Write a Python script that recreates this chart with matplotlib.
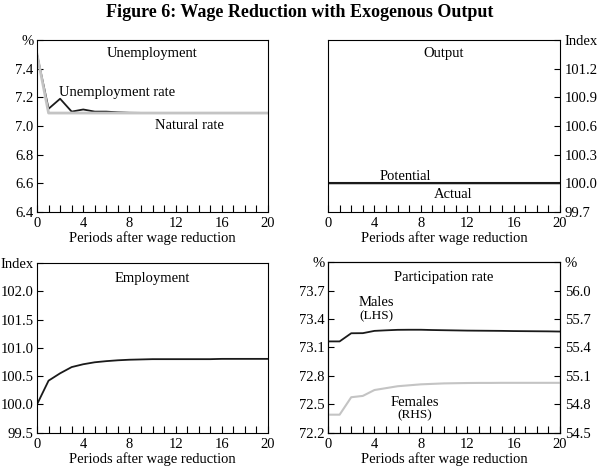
import matplotlib
matplotlib.use('Agg')
import matplotlib.pyplot as plt
from matplotlib.ticker import MultipleLocator

plt.rcParams.update({
    'font.family': 'Liberation Serif',
    'font.size': 10.5,
    'axes.linewidth': 0.8,
    'xtick.direction': 'in',
    'ytick.direction': 'in',
    'xtick.major.size': 5,
    'xtick.minor.size': 5,
    'ytick.major.size': 4,
    'xtick.major.width': 0.8,
    'xtick.minor.width': 0.8,
    'ytick.major.width': 0.8,
})

# data
periods = list(range(21))
unemp_rate = [7.50, 7.12, 7.19, 7.10, 7.115, 7.10, 7.10, 7.095, 7.092, 7.091,
              7.09, 7.09, 7.09, 7.09, 7.09, 7.09, 7.09, 7.09, 7.09, 7.09, 7.09]
natural_rate = [7.50] + [7.09] * 20
output_potential = [100.0] * 21
output_actual = [100.0] * 21
employment = [100.0, 100.42, 100.55, 100.66, 100.71, 100.745, 100.765, 100.78,
              100.79, 100.795, 100.80, 100.80, 100.80, 100.80, 100.80, 100.80,
              100.805, 100.805, 100.805, 100.805, 100.805]
males = [73.163, 73.163, 73.249, 73.25, 73.274, 73.28, 73.285, 73.286, 73.286,
         73.283, 73.281, 73.279, 73.277, 73.276, 73.275, 73.274, 73.272, 73.271,
         73.27, 73.269, 73.267]
females = [54.69, 54.69, 54.874, 54.888, 54.95, 54.97, 54.99, 55.0, 55.01,
           55.015, 55.02, 55.022, 55.024, 55.025, 55.025, 55.026, 55.026, 55.026,
           55.026, 55.026, 55.026]

unemp_ticks = [6.4, 6.6, 6.8, 7.0, 7.2, 7.4, 7.6]
unemp_labels = ['6.4', '6.6', '6.8', '7.0', '7.2', '7.4', '%']
output_ticks = [99.7, 100.0, 100.3, 100.6, 100.9, 101.2, 101.5]
output_labels = ['99.7', '100.0', '100.3', '100.6', '100.9', '101.2', 'Index']
emp_ticks = [99.5, 100.0, 100.5, 101.0, 101.5, 102.0, 102.5]
emp_labels = ['99.5', '100.0', '100.5', '101.0', '101.5', '102.0', 'Index']
male_ticks = [72.2, 72.5, 72.8, 73.1, 73.4, 73.7, 74.0]
male_labels = ['72.2', '72.5', '72.8', '73.1', '73.4', '73.7', '%']
fem_ticks = [54.5, 54.8, 55.1, 55.4, 55.7, 56.0, 56.3]
fem_labels = ['54.5', '54.8', '55.1', '55.4', '55.7', '56.0', '%']

BLACK = '#1a1a1a'
GREY = '#c4c4c4'
XLABEL = 'Periods after wage reduction'

fig = plt.figure(figsize=(6, 4.7), dpi=100)
fig.text(0.5, 0.974, 'Figure 6: Wage Reduction with Exogenous Output',
         ha='center', va='center', fontsize=13, fontweight='bold')


def setup_x(ax):
    ax.set_xlim(0, 20)
    ax.xaxis.set_major_locator(MultipleLocator(4))
    ax.xaxis.set_minor_locator(MultipleLocator(1))
    ax.tick_params(axis='x', which='both', top=False, pad=4)
    ax.set_xlabel(XLABEL, labelpad=1)


def setup_y(ax, ticks, labels, side='left'):
    ax.set_ylim(ticks[0], ticks[-1])
    ax.set_yticks(ticks)
    ax.set_yticklabels(labels)
    if side == 'left':
        ax.tick_params(axis='y', left=True, right=False, pad=2.5)
    else:
        ax.yaxis.tick_right()
        ax.tick_params(axis='y', left=False, right=True, pad=3.5)


# Unemployment
ax1 = fig.add_axes([0.0617, 0.5496, 0.385, 0.365])
ax1.plot(periods, unemp_rate, color=BLACK, lw=1.3)
ax1.plot(periods, natural_rate, color=GREY, lw=2.0)
setup_x(ax1)
setup_y(ax1, unemp_ticks, unemp_labels)
ax1.text(0.5, 0.92, 'Unemployment', transform=ax1.transAxes, ha='center', va='center')
ax1.text(6.9, 7.235, 'Unemployment rate', ha='center', va='center')
ax1.text(13.2, 7.0, 'Natural rate', ha='center', va='center')

# Output
ax2 = fig.add_axes([0.5467, 0.5496, 0.3867, 0.365])
ax2.plot(periods, output_actual, color=GREY, lw=2.0)
ax2.plot(periods, output_potential, color=BLACK, lw=1.5)
setup_x(ax2)
setup_y(ax2, output_ticks, output_labels, side='right')
ax2.text(0.5, 0.92, 'Output', transform=ax2.transAxes, ha='center', va='center')
ax2.text(6.7, 100.065, 'Potential', ha='center', va='center')
ax2.text(10.75, 99.885, 'Actual', ha='center', va='center')

# Employment
ax3 = fig.add_axes([0.0617, 0.0794, 0.385, 0.361])
ax3.plot(periods, employment, color=BLACK, lw=1.3)
setup_x(ax3)
setup_y(ax3, emp_ticks, emp_labels)
ax3.text(0.5, 0.91, 'Employment', transform=ax3.transAxes, ha='center', va='center')

# Participation rate
ax4 = fig.add_axes([0.5467, 0.0794, 0.3867, 0.363])
ax4.plot(periods, males, color=BLACK, lw=1.3)
setup_x(ax4)
setup_y(ax4, male_ticks, male_labels)
ax4b = ax4.twinx()
ax4b.plot(periods, females, color=GREY, lw=1.5)
setup_y(ax4b, fem_ticks, fem_labels, side='right')
ax4.text(0.5, 0.91, 'Participation rate', transform=ax4.transAxes, ha='center', va='center')
ax4.text(4.2, 73.57, 'Males', ha='center', va='center')
ax4.text(4.2, 73.43, '(LHS)', ha='center', va='center', fontsize=9.5)
ax4.text(7.5, 72.52, 'Females', ha='center', va='center')
ax4.text(7.5, 72.38, '(RHS)', ha='center', va='center', fontsize=9.5)

fig.savefig('out.png', dpi=100)
